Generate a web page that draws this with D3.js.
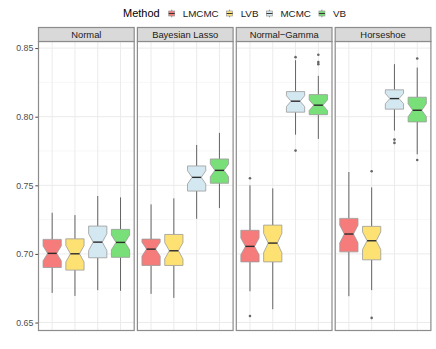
<!DOCTYPE html>
<html><head><meta charset="utf-8">
<script src="https://cdn.jsdelivr.net/npm/d3@7"></script>
<style>
html,body{margin:0;padding:0;background:#fff;}
svg{display:block;font-family:"Liberation Sans",Arial,sans-serif;}
</style></head>
<body>
<svg id="chart" width="436" height="349"></svg>
<script>
// ---------- data ----------
const panels = ["Normal", "Bayesian Lasso", "Normal\u2212Gamma", "Horseshoe"];
const methods = ["LMCMC", "LVB", "MCMC", "VB"];
const methodFill = ["#F67C7C", "#FDE273", "#D4E8F1", "#79DF79"];
const yTicks = [0.65, 0.70, 0.75, 0.80, 0.85];
const yMinor = [0.675, 0.725, 0.775, 0.825];
// per panel, per method (LMCMC, LVB, MCMC, VB)
const whiskerLow = [
  [0.6716, 0.6694, 0.6736, 0.6731],
  [0.6709, 0.6680, 0.7256, 0.7334],
  [0.6728, 0.6597, 0.7869, 0.7838],
  [0.6692, 0.6736, 0.7899, 0.7726]
];
const q1 = [
  [0.6901, 0.6882, 0.6972, 0.6975],
  [0.6916, 0.6916, 0.7458, 0.7515],
  [0.6942, 0.6942, 0.8033, 0.8015],
  [0.7015, 0.6957, 0.8055, 0.7962]
];
const median = [
  [0.7004, 0.7001, 0.7086, 0.7084],
  [0.7035, 0.7023, 0.7558, 0.7609],
  [0.7055, 0.7079, 0.8113, 0.8084],
  [0.7145, 0.7096, 0.8132, 0.8047]
];
const q3 = [
  [0.7106, 0.7110, 0.7203, 0.7179],
  [0.7108, 0.7142, 0.7641, 0.7692],
  [0.7172, 0.7210, 0.8183, 0.8161],
  [0.7259, 0.7201, 0.8196, 0.8142]
];
const whiskerHigh = [
  [0.7300, 0.7283, 0.7422, 0.7412],
  [0.7361, 0.7405, 0.7794, 0.7882],
  [0.7500, 0.7478, 0.8412, 0.8298],
  [0.7597, 0.7485, 0.8383, 0.8358]
];
const outliers = [
  [[], [], [], []],
  [[], [], [], []],
  [[0.7551, 0.6548], [], [0.8434, 0.7753], [0.8451, 0.8398, 0.8383]],
  [[], [0.7602, 0.6534], [0.7833, 0.7809], [0.8424, 0.7685]]
];
const sampleSize = 36;

// ---------- layout ----------
const svg = d3.select("#chart");
const panelLeft = 38.5, panelW = 95.7, panelGap = 3.2;
const stripTop = 27.5, stripBottom = 41.5, panelBottom = 330.5;

const y = d3.scaleLinear().domain([0.6442, 0.8548]).range([panelBottom, stripBottom]);
const x = d3.scalePoint().domain(methods).range([0, panelW]).padding(0.6);
const step = x.step();
const boxW = step * 0.8;

// y axis
const yAxis = d3.axisLeft(y).tickValues(yTicks).tickFormat(d3.format(".2f")).tickSize(3.2).tickPadding(2);
const ax = svg.append("g").attr("transform", `translate(${panelLeft},0)`).call(yAxis);
ax.select(".domain").remove();
ax.selectAll(".tick line").attr("stroke", "#333").attr("stroke-width", 0.9);
ax.selectAll(".tick text").attr("fill", "#4d4d4d").attr("font-size", "8.8px")
  .attr("font-family", "Liberation Sans, Arial, sans-serif");

panels.forEach((pname, pi) => {
  const px = panelLeft + pi * (panelW + panelGap);
  const g = svg.append("g").attr("transform", `translate(${px},0)`);
  // grid
  g.selectAll(".minor").data(yMinor).join("line")
    .attr("x1", 0).attr("x2", panelW).attr("y1", d => y(d)).attr("y2", d => y(d))
    .attr("stroke", "#f2f2f2").attr("stroke-width", 0.6);
  g.selectAll(".major").data(yTicks).join("line")
    .attr("x1", 0).attr("x2", panelW).attr("y1", d => y(d)).attr("y2", d => y(d))
    .attr("stroke", "#ebebeb").attr("stroke-width", 1);
  g.selectAll(".vmajor").data(methods).join("line")
    .attr("x1", d => x(d)).attr("x2", d => x(d)).attr("y1", stripBottom).attr("y2", panelBottom)
    .attr("stroke", "#ebebeb").attr("stroke-width", 1);

  methods.forEach((m, mi) => {
    const cx = x(m);
    const lo = whiskerLow[pi][mi], a = q1[pi][mi], md = median[pi][mi], b = q3[pi][mi], hi = whiskerHigh[pi][mi];
    const notch = 1.58 * (b - a) / Math.sqrt(sampleSize);
    const nLo = md - notch, nHi = md + notch;
    // whiskers
    g.append("line").attr("x1", cx).attr("x2", cx).attr("y1", y(b)).attr("y2", y(hi))
      .attr("stroke", "#555").attr("stroke-width", 0.9);
    g.append("line").attr("x1", cx).attr("x2", cx).attr("y1", y(a)).attr("y2", y(lo))
      .attr("stroke", "#555").attr("stroke-width", 0.9);
    // notched box
    const hw = boxW / 2, nw = boxW / 4;
    const pts = [
      [cx - hw, y(b)], [cx + hw, y(b)], [cx + hw, y(nHi)], [cx + nw, y(md)], [cx + hw, y(nLo)],
      [cx + hw, y(a)], [cx - hw, y(a)], [cx - hw, y(nLo)], [cx - nw, y(md)], [cx - hw, y(nHi)]
    ];
    g.append("path").attr("d", d3.line()(pts) + "Z")
      .attr("fill", methodFill[mi]).attr("stroke", "#9a9a9a").attr("stroke-width", 0.8);
    g.append("line").attr("x1", cx - nw).attr("x2", cx + nw).attr("y1", y(md)).attr("y2", y(md))
      .attr("stroke", "#2b2b2b").attr("stroke-width", 1.4);
    // outliers
    g.selectAll(null).data(outliers[pi][mi]).join("circle")
      .attr("cx", cx).attr("cy", d => y(d)).attr("r", 1.3).attr("fill", "#666");
  });

  // panel border
  g.append("rect").attr("x", 0).attr("y", stripBottom).attr("width", panelW).attr("height", panelBottom - stripBottom)
    .attr("fill", "none").attr("stroke", "#8c8c8c").attr("stroke-width", 1.2);
  // strip
  g.append("rect").attr("x", 0).attr("y", stripTop).attr("width", panelW).attr("height", stripBottom - stripTop)
    .attr("fill", "#d9d9d9").attr("stroke", "#8c8c8c").attr("stroke-width", 1.2);
  g.append("text").attr("x", panelW / 2).attr("y", (stripTop + stripBottom) / 2 + 3.4)
    .attr("text-anchor", "middle").attr("font-size", "9.4px").attr("fill", "#1a1a1a").text(pname);
});

// legend
const leg = svg.append("g");
const title = leg.append("text").attr("x", 123).attr("y", 17.2).attr("font-size", "11px").attr("fill", "#000").text("Method");
let cur = 123 + title.node().getComputedTextLength() + 12;
methods.forEach((m, i) => {
  const kx = cur, ky = 13.5;
  leg.append("line").attr("x1", kx).attr("x2", kx).attr("y1", ky - 3.8).attr("y2", ky + 3.8)
    .attr("stroke", "#666").attr("stroke-width", 0.8);
  leg.append("rect").attr("x", kx - 3).attr("y", ky - 2.5).attr("width", 6).attr("height", 5)
    .attr("fill", methodFill[i]).attr("stroke", "#9a9a9a").attr("stroke-width", 0.7);
  leg.append("line").attr("x1", kx - 3).attr("x2", kx + 3).attr("y1", ky).attr("y2", ky)
    .attr("stroke", "#333").attr("stroke-width", 1);
  const t = leg.append("text").attr("x", kx + 11).attr("y", 16.9).attr("font-size", "9.8px").attr("fill", "#1a1a1a").text(m);
  cur = kx + 11 + t.node().getComputedTextLength() + 11;
});
</script>
</body></html>
